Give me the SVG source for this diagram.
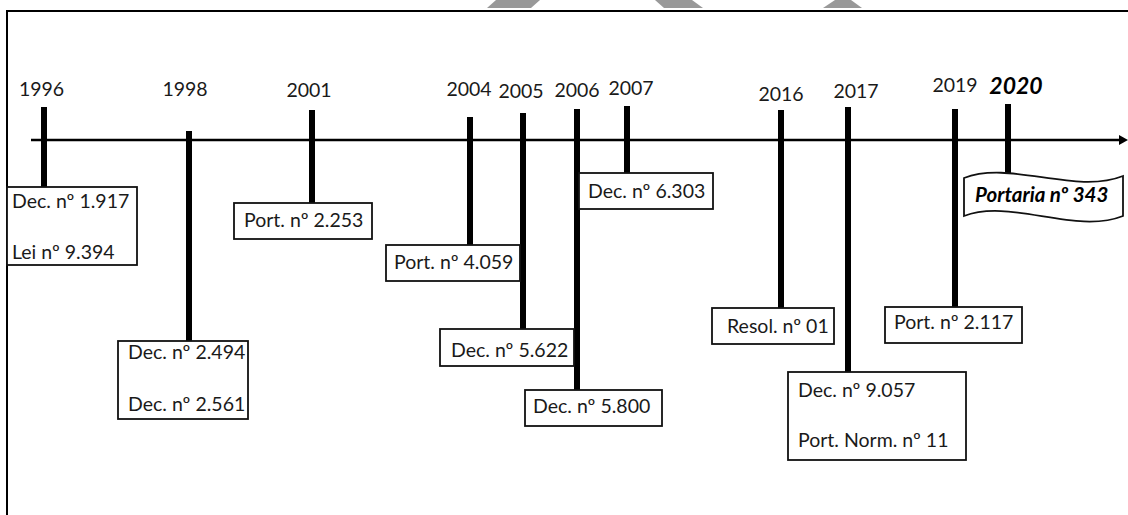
<svg xmlns="http://www.w3.org/2000/svg" width="1128" height="515" viewBox="0 0 1128 515">
<defs>
<style>
.t{font-family:Lato,"Open Sans","Liberation Sans",sans-serif;font-size:19.5px;fill:#1a1a1a}
.yr{text-anchor:middle}
.bi{font-weight:bold;font-style:italic;fill:#000}
.box{fill:#fff;stroke:#111;stroke-width:1.8}
.bar{stroke:#000;stroke-width:6;fill:none}
.axis{stroke:#000;stroke-width:2.5;fill:none}
.frame{stroke:#000;stroke-width:2;fill:none}
.wm{fill:#999}
</style>
<marker id="arrow" viewBox="0 0 9 10" markerWidth="9" markerHeight="10" refX="0" refY="5" orient="auto" markerUnits="userSpaceOnUse">
<path d="M0,0 L9,5 L0,10 z" fill="#000"/>
</marker>
</defs>
<rect width="1128" height="515" fill="#fff"/>
<g id="watermark">
<polygon class="wm" points="496,0 540,0 531,8 487,8"/>
<polygon class="wm" points="655,0 692,0 703,8 664,8"/>
<polygon class="wm" points="835,0 851,0 862,8 823,8"/>
</g>
<path class="frame" d="M7,515 V11 H1128"/>
<g id="connectors">
<line class="axis" x1="31" y1="140" x2="1119" y2="140" marker-end="url(#arrow)"/>
<line class="bar" x1="44" y1="107" x2="44" y2="187"/>
<line class="bar" x1="189" y1="131" x2="189" y2="341"/>
<line class="bar" x1="312" y1="110" x2="312" y2="203"/>
<line class="bar" x1="470" y1="117" x2="470" y2="245"/>
<line class="bar" x1="523" y1="113" x2="523" y2="329"/>
<line class="bar" x1="577" y1="109" x2="577" y2="390"/>
<line class="bar" x1="627" y1="106" x2="627" y2="173"/>
<line class="bar" x1="781" y1="110" x2="781" y2="308"/>
<line class="bar" x1="848" y1="107" x2="848" y2="372"/>
<line class="bar" x1="955" y1="109" x2="955" y2="307"/>
<line class="bar" x1="1008" y1="104" x2="1008" y2="175"/>
</g>
<g id="n1996">
<text class="t yr" x="41.5" y="96">1996</text>
<rect class="box" x="7" y="187" width="130" height="78"/>
<text class="t" x="12" y="208">Dec. nº 1.917</text>
<text class="t" x="12" y="259">Lei nº 9.394</text>
</g>
<g id="n1998">
<text class="t yr" x="185" y="96">1998</text>
<rect class="box" x="118" y="341" width="130" height="78"/>
<text class="t" x="128" y="359">Dec. nº 2.494</text>
<text class="t" x="128" y="411">Dec. nº 2.561</text>
</g>
<g id="n2001">
<text class="t yr" x="309" y="97">2001</text>
<rect class="box" x="234" y="203" width="138" height="36"/>
<text class="t" x="244" y="227">Port. nº 2.253</text>
</g>
<g id="n2004">
<text class="t yr" x="469" y="96">2004</text>
<rect class="box" x="386" y="245" width="134" height="36"/>
<text class="t" x="394" y="269">Port. nº 4.059</text>
</g>
<g id="n2005">
<text class="t yr" x="521" y="98">2005</text>
<rect class="box" x="440" y="329" width="134" height="37"/>
<text class="t" x="451" y="357">Dec. nº 5.622</text>
</g>
<g id="n2006">
<text class="t yr" x="577" y="97">2006</text>
<rect class="box" x="525" y="390" width="137" height="36"/>
<text class="t" x="533" y="413">Dec. nº 5.800</text>
</g>
<g id="n2007">
<text class="t yr" x="631" y="95">2007</text>
<rect class="box" x="579" y="173" width="134" height="36"/>
<text class="t" x="588" y="198">Dec. nº 6.303</text>
</g>
<g id="n2016">
<text class="t yr" x="781" y="101">2016</text>
<rect class="box" x="712" y="308" width="122" height="36"/>
<text class="t" x="727" y="333">Resol. nº 01</text>
</g>
<g id="n2017">
<text class="t yr" x="856" y="98">2017</text>
<rect class="box" x="788" y="372" width="178" height="88"/>
<text class="t" x="798" y="397">Dec. nº 9.057</text>
<text class="t" x="798" y="447">Port. Norm. nº 11</text>
</g>
<g id="n2019">
<text class="t yr" x="955" y="92">2019</text>
<rect class="box" x="885" y="307" width="137" height="36"/>
<text class="t" x="894" y="329">Port. nº 2.117</text>
</g>
<g id="n2020">
<text class="t yr bi" x="1016" y="94" style="font-size:23px">2020</text>
<path class="box" d="M964,178 C1010,160 1075,195 1123,176 L1123,216 C1075,235 1010,198 964,216 Z"/>
<text class="t bi" x="975" y="202" style="font-size:20.5px">Portaria nº 343</text>
</g>
</svg>
